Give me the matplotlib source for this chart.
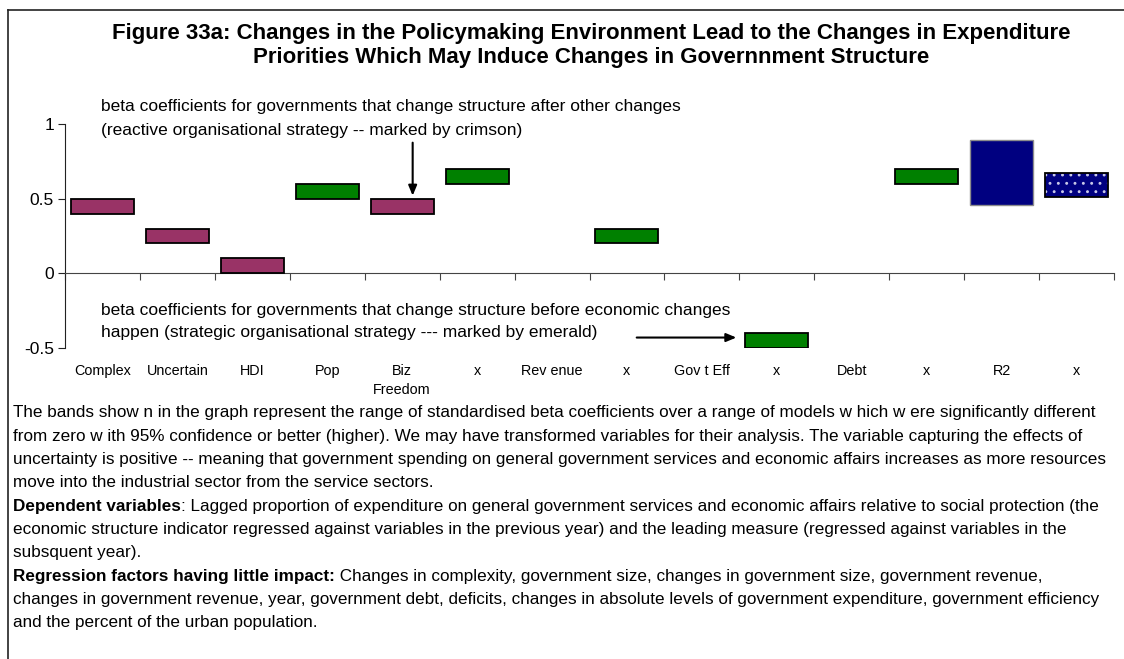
import numpy as np
import matplotlib
matplotlib.use("Agg")
import matplotlib.pyplot as plt
from matplotlib.lines import Line2D

plt.rcParams['font.family'] = ['Liberation Sans', 'DejaVu Sans']
plt.rcParams['hatch.linewidth'] = 0.9

# ---- data -------------------------------------------------------------
categories = ["Complex", "Uncertain", "HDI", "Pop", "Biz\nFreedom", "x",
              "Rev enue", "x", "Gov t Eff", "x", "Debt", "x", "R2", "x"]
band_low = [0.40, 0.20, 0.00, 0.50, 0.40, 0.60, np.nan, 0.20, np.nan,
            -0.50, np.nan, 0.60, 0.46, 0.51]
band_high = [0.50, 0.30, 0.10, 0.60, 0.50, 0.70, np.nan, 0.30, np.nan,
             -0.40, np.nan, 0.70, 0.89, 0.67]
band_kind = ["reactive", "reactive", "reactive", "strategic", "reactive",
             "strategic", None, "strategic", None, "strategic", None,
             "strategic", "r2", "r2_lead"]
y_ticks = [-0.5, 0, 0.5, 1]
y_tick_labels = ["-0.5", "0", "0.5", "1"]

title_lines = [
    "Figure 33a: Changes in the Policymaking Environment Lead to the Changes in Expenditure",
    "Priorities Which May Induce Changes in Governnment Structure",
]
note_reactive = ["beta coefficients for governments that change structure after other changes",
                 "(reactive organisational strategy -- marked by crimson)"]
note_strategic = ["beta coefficients for governments that change structure before economic changes",
                  "happen (strategic organisational strategy --- marked by emerald)"]

footer = [
    ("", "The bands show n in the graph represent the range of standardised beta coefficients over a range of models w hich w ere significantly different"),
    ("", "from zero w ith 95% confidence or better (higher). We may have transformed variables for their analysis. The variable capturing the effects of"),
    ("", "uncertainty is positive -- meaning that government spending on general government services and economic affairs increases as more resources"),
    ("", "move into the industrial sector from the service sectors."),
    ("Dependent variables", ": Lagged proportion of expenditure on general government services and economic affairs relative to social protection (the"),
    ("", "economic structure indicator regressed against variables in the previous year) and the leading measure (regressed against variables in the"),
    ("", "subsquent year)."),
    ("Regression factors having little impact:", " Changes in complexity, government size, changes in government size, government revenue,"),
    ("", "changes in government revenue, year, government debt, deficits, changes in absolute levels of government expenditure, government efficiency"),
    ("", "and the percent of the urban population."),
]

colours = {"reactive": "#993366", "strategic": "#008000",
           "r2": "#000080", "r2_lead": "#000080"}

# ---- figure -----------------------------------------------------------
W, H = 1124, 659
fig = plt.figure(figsize=(W / 100, H / 100), dpi=100)


def fx(px):
    return px / W


def fy(py):
    return 1 - py / H


ax = fig.add_axes([fx(65), fy(348), fx(1114) - fx(65), fy(124) - fy(348)])
ax.set_xlim(0, len(categories))
ax.set_ylim(-0.5, 1)

x = np.arange(len(categories)) + 0.5
low = np.array(band_low)
high = np.array(band_high)
width = 0.84

for xi, lo, hi, kind in zip(x, low, high, band_kind):
    if kind is None or np.isnan(lo):
        continue
    c = colours[kind]
    if kind == "r2":
        ax.bar(xi, hi - lo, bottom=lo, width=width, color=c,
               edgecolor="#8c8c8c", linewidth=1.0, zorder=3)
    elif kind == "r2_lead":
        ax.bar(xi, hi - lo, bottom=lo, width=width, color=c,
               edgecolor="#c8c8e8", linewidth=0, hatch="..", zorder=3)
        ax.bar(xi, hi - lo, bottom=lo, width=width, color="none",
               edgecolor="black", linewidth=1.3, zorder=4)
    else:
        ax.bar(xi, hi - lo, bottom=lo, width=width, color=c,
               edgecolor="black", linewidth=1.3, zorder=3)

# axes styling
for side in ("top", "right"):
    ax.spines[side].set_visible(False)
ax.spines["bottom"].set_position(("data", 0))
ax.spines["bottom"].set_color("#444444")
ax.spines["left"].set_color("#222222")
ax.set_xticks(np.arange(len(categories) + 1))
ax.set_xticklabels([])
ax.tick_params(axis="x", which="major", direction="out", length=5,
               color="#444444")
ax.set_xticks(x, minor=True)
ax.set_xticklabels(categories, minor=True, fontsize=10.4, linespacing=1.45)
ax.tick_params(axis="x", which="minor", length=0, pad=65)
ax.set_yticks(y_ticks)
ax.set_yticklabels(y_tick_labels, fontsize=12.5)
ax.tick_params(axis="y", direction="out", length=5, pad=3, color="#222222")

# notes and arrows
ax.annotate("", xy=(4.64, 0.52), xytext=(4.64, 0.875),
            arrowprops=dict(arrowstyle="-|>,head_width=0.25,head_length=0.6",
                            color="black", lw=1.5, shrinkA=0, shrinkB=0))
ax.annotate("", xy=(8.96, -0.43), xytext=(7.63, -0.43),
            arrowprops=dict(arrowstyle="-|>,head_width=0.25,head_length=0.6",
                            color="black", lw=1.5, shrinkA=0, shrinkB=0))

for i, line in enumerate(note_reactive):
    fig.text(fx(101), fy(106 + 24 * i), line, fontsize=12.5, va="center")
for i, line in enumerate(note_strategic):
    fig.text(fx(101), fy(311 + 21 * i), line, fontsize=12.5, va="center")

# title
for i, line in enumerate(title_lines):
    fig.text(fx(591), fy(33 + 24 * i), line, fontsize=16, weight="bold",
             ha="center", va="center")

# footer text
fig.canvas.draw()
renderer = fig.canvas.get_renderer()
for i, (bold, rest) in enumerate(footer):
    yy = fy(413 + 23.3 * i)
    x0 = fx(13)
    if bold:
        tb = fig.text(x0, yy, bold, fontsize=12.3, weight="bold", va="center")
        bb = tb.get_window_extent(renderer=renderer)
        x0 = bb.x1 / W
    fig.text(x0, yy, rest, fontsize=12.3, va="center")

# outer frame (left and top edges)
fig.add_artist(Line2D([fx(8), fx(8)], [0, fy(10)], color="#222222", lw=1.2))
fig.add_artist(Line2D([fx(8), 1], [fy(10), fy(10)], color="#222222", lw=1.2))

fig.savefig("out.png", dpi=100)
